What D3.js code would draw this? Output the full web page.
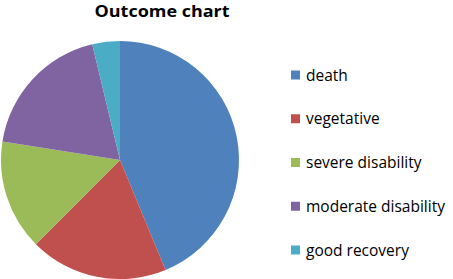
<!DOCTYPE html>
<html><head><meta charset="utf-8">
<script src="https://cdn.jsdelivr.net/npm/d3@7/dist/d3.min.js"></script>
<style>body{margin:0;background:#fff}svg{display:block}</style>
</head><body>
<svg id="c" width="453" height="279"></svg>
<script>
const categories = ["death","vegetative","severe disability","moderate disability","good recovery"];
const values = [35,15,12,15,3];
const colors = ["#4F81BD","#C0504D","#9BBB59","#8064A2","#4BACC6"];
const title = "Outcome chart";

const svg = d3.select("#c");
const font = "'Open Sans', Lato, sans-serif";
const data = categories.map((c,i)=>({c, v:values[i], col:colors[i]}));
const pie = d3.pie().value(d=>d.v).sort(null);
const arc = d3.arc().innerRadius(0).outerRadius(119);
const g = svg.append("g").attr("transform","translate(120,160)");
g.selectAll("path").data(pie(data)).join("path")
  .attr("d",arc).attr("fill",d=>d.data.col);

const t = svg.append("text").attr("x",162).attr("y",17).attr("text-anchor","middle")
  .attr("font-family",font).attr("font-weight","bold").attr("font-size",16)
  .attr("fill","#000").text(title);
const tw = t.node().getComputedTextLength();
if (tw > 0) t.attr("textLength",135).attr("lengthAdjust","spacingAndGlyphs");

const y = d3.scalePoint().domain(categories).range([75,250]);
const lg = svg.append("g");
const row = lg.selectAll("g").data(data).join("g")
  .attr("transform",d=>`translate(291,${y(d.c)})`);
row.append("rect").attr("x",0).attr("y",-4.5).attr("width",9).attr("height",9).attr("fill",d=>d.col);
row.append("text").attr("x",15).attr("y",5.5).attr("font-family",font).attr("font-size",15.5)
  .attr("fill","#000").text(d=>d.c);
</script>
</body></html>
